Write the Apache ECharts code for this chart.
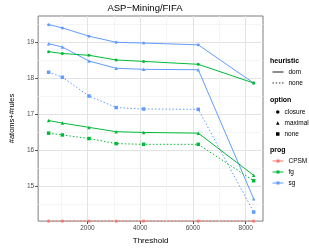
<!DOCTYPE html>
<html>
<head>
<meta charset="utf-8">
<script src="https://cdn.jsdelivr.net/npm/echarts@6/dist/echarts.min.js"></script>
<style>
    html, body { margin: 0; padding: 0; background: #fff; }
    #chart { width: 309px; height: 250px; }
</style>
</head>
<body>
<div id="chart"></div>
<script>
(function () {
    'use strict';

    // data
    var thresholds = [530, 1050, 2060, 3090, 4130, 6200, 8300];
    var sgClosureDom = [19.48, 19.39, 19.16, 18.99, 18.97, 18.92, 17.86];
    var sgMaximalDom = [18.95, 18.86, 18.47, 18.27, 18.24, 18.23, 14.65];
    var sgNoneNone = [18.16, 18.02, 17.50, 17.18, 17.14, 17.13, 14.28];
    var fgClosureDom = [18.73, 18.68, 18.63, 18.50, 18.46, 18.38, 17.86];
    var fgMaximalDom = [16.82, 16.75, 16.63, 16.51, 16.49, 16.47, 15.30];
    var fgNoneNone = [16.47, 16.42, 16.32, 16.18, 16.16, 16.16, 15.15];
    var cpsmAll = [14.03, 14.03, 14.03, 14.03, 14.03, 14.03, 14.03];

    var xTicks = [2000, 4000, 6000, 8000];
    var xMinorTicks = [1000, 3000, 5000, 7000];
    var yTicks = [15, 16, 17, 18, 19];
    var yMinorTicks = [14.5, 15.5, 16.5, 17.5, 18.5, 19.5];

    var colors = { CPSM: '#F8766D', fg: '#00BA38', sg: '#619CFF' };
    var shapes = { closure: 'circle', maximal: 'triangle', none: 'rect' };
    var dashes = { dom: 'solid', none: [1.5, 2] };

    var font = 'Liberation Sans, Arial, sans-serif';

    // legend key glyphs
    var solidKey = 'path://M0,0h11v1h-11z';
    var dottedKey = 'path://M0,0h1.5v1h-1.5zM3.2,0h1.5v1h-1.5zM6.4,0h1.5v1h-1.5zM9.5,0h1.5v1h-1.5z';
    var progKey = 'path://M0,1h4v1h-4zM4,0h3v3h-3zM7,1h4v1h-4z';

    function pairs(ys) {
        return ys.map(function (y, i) { return [thresholds[i], y]; });
    }

    function line(prog, option, heur, ys) {
        var cpsm = prog === 'CPSM';
        return {
            name: prog + '-' + option + '-' + heur,
            type: 'line',
            data: pairs(ys),
            symbol: shapes[option],
            symbolSize: cpsm ? 2.5 : (option === 'closure' ? 3 : 3.5),
            color: colors[prog],
            lineStyle: { width: cpsm ? 0.6 : 1, type: cpsm ? [1.5, 2] : dashes[heur] },
            itemStyle: { color: colors[prog] },
            animation: false,
            z: prog === 'fg' ? 3 : 2
        };
    }

    // empty series only used for the legend keys
    function key(name, color) {
        return { name: name, type: 'line', data: [], color: color, itemStyle: { color: color }, animation: false };
    }

    var series = [
        line('CPSM', 'closure', 'dom', cpsmAll),
        line('CPSM', 'maximal', 'dom', cpsmAll),
        line('CPSM', 'none', 'none', cpsmAll),
        line('sg', 'closure', 'dom', sgClosureDom),
        line('sg', 'maximal', 'dom', sgMaximalDom),
        line('sg', 'none', 'none', sgNoneNone),
        line('fg', 'closure', 'dom', fgClosureDom),
        line('fg', 'maximal', 'dom', fgMaximalDom),
        line('fg', 'none', 'none', fgNoneNone),
        key('h:dom', '#333'),
        key('h:none', '#333'),
        key('o:closure', '#000'),
        key('o:maximal', '#000'),
        key('o:none', '#000'),
        key('p:CPSM', colors.CPSM),
        key('p:fg', colors.fg),
        key('p:sg', colors.sg)
    ];

    function legend(items, left, top, w, h) {
        return {
            data: items,
            orient: 'vertical',
            left: left,
            top: top,
            padding: 0,
            itemWidth: w,
            itemHeight: h,
            itemGap: 3,
            symbolKeepAspect: false,
            selectedMode: false,
            formatter: function (n) { return n.slice(2); },
            textStyle: { fontSize: 6.5, lineHeight: 8, color: '#000', fontFamily: font }
        };
    }

    function legendTitle(text, top) {
        return {
            text: text, left: 270, top: top, padding: 0,
            textStyle: { fontSize: 7, fontWeight: 'bold', color: '#000', fontFamily: font }
        };
    }

    var xMin = 132, xMax = 8654, yMin = 14.03, yMax = 19.72;

    var option = {
        animation: false,
        title: [
            {
                text: 'ASP\u2212Mining/FIFA', left: 145, top: 3, padding: 0, textAlign: 'center',
                textStyle: { fontSize: 9.5, fontWeight: 'normal', color: '#000', fontFamily: font }
            },
            legendTitle('heuristic', 58),
            legendTitle('option', 97),
            legendTitle('prog', 147)
        ],
        legend: [
            legend([{ name: 'h:dom', icon: solidKey }, { name: 'h:none', icon: dottedKey }], 272.5, 68, 11, 1.1),
            legend([{ name: 'o:closure', icon: 'circle' }, { name: 'o:maximal', icon: 'triangle' },
                    { name: 'o:none', icon: 'rect' }], 276, 108, 3.5, 3.5),
            legend([{ name: 'p:CPSM', icon: progKey }, { name: 'p:fg', icon: progKey },
                    { name: 'p:sg', icon: progKey }], 272.5, 157, 11, 3)
        ],
        grid: {
            left: 26, right: 46, top: 16, bottom: 18,
            show: true, borderColor: '#7f7f7f', borderWidth: 1, backgroundColor: '#fff'
        },
        xAxis: [
            {
                type: 'value', min: xMin, max: xMax,
                name: 'Threshold', nameLocation: 'middle', nameGap: 14,
                nameTextStyle: { fontSize: 8, color: '#000', fontFamily: font },
                axisLine: { show: false },
                axisTick: { customValues: xTicks, length: 3, lineStyle: { color: '#4d4d4d' } },
                axisLabel: {
                    customValues: xTicks, fontSize: 6.5, color: '#4d4d4d', margin: 4, fontFamily: font,
                    formatter: function (v) { return String(v); }
                },
                splitLine: { show: true, lineStyle: { color: '#e3e3e3', width: 1 } }
            },
            {
                type: 'value', min: xMin, max: xMax, position: 'top',
                axisLine: { show: false },
                axisTick: { show: false, customValues: xMinorTicks },
                axisLabel: { show: false, customValues: xMinorTicks },
                splitLine: { show: true, lineStyle: { color: '#f3f3f3', width: 0.8 } }
            }
        ],
        yAxis: [
            {
                type: 'value', min: yMin, max: yMax,
                name: '#atoms+#rules', nameLocation: 'middle', nameGap: 16,
                nameTextStyle: { fontSize: 7.5, color: '#000', fontFamily: font },
                axisLine: { show: false },
                axisTick: { customValues: yTicks, length: 3, lineStyle: { color: '#4d4d4d' } },
                axisLabel: { customValues: yTicks, fontSize: 6.5, color: '#4d4d4d', margin: 4, fontFamily: font },
                splitLine: { show: true, lineStyle: { color: '#e3e3e3', width: 1 } }
            },
            {
                type: 'value', min: yMin, max: yMax, position: 'right',
                axisLine: { show: false },
                axisTick: { show: false, customValues: yMinorTicks },
                axisLabel: { show: false, customValues: yMinorTicks },
                splitLine: { show: true, lineStyle: { color: '#f3f3f3', width: 0.8 } }
            }
        ],
        series: series
    };

    var myChart = echarts.init(document.getElementById('chart'));
    myChart.setOption(option);
})();
</script>
</body>
</html>
